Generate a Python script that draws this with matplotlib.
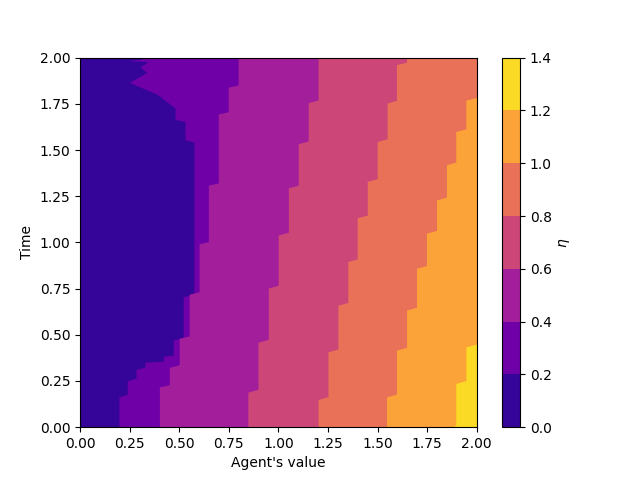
import matplotlib as mpl
import matplotlib.pyplot as plt
import numpy as np

# Contour levels of eta
levels = [0.0, 0.2, 0.4, 0.6, 0.8, 1.0, 1.2, 1.4]

# Level boundaries: (time, agent's value) vertices.
# Everything right of boundary k has eta >= levels[k + 1].
b02_t = [0.0, 0.164, 0.179, 0.251, 0.266, 0.313, 0.325, 0.352, 0.358, 0.385, 0.39, 0.47,
         0.49, 0.706, 0.72, 1.543, 1.555, 1.655, 1.665, 1.727, 1.80, 1.81, 1.866, 1.92,
         1.95, 1.978, 1.983, 1.986, 1.99, 2.0]
b02_x = [0.196, 0.196, 0.238, 0.238, 0.282, 0.282, 0.327, 0.327, 0.42, 0.42, 0.47, 0.47,
         0.52, 0.52, 0.574, 0.574, 0.529, 0.529, 0.479, 0.479, 0.39, 0.37, 0.249, 0.336,
         0.302, 0.344, 0.25, 0.25, 0.31, 0.31]

b04_t = [0.0, 0.218, 0.23, 0.324, 0.338, 0.48, 0.494, 0.72, 0.733, 0.992, 1.005, 1.31,
         1.322, 1.695, 1.707, 1.84, 1.852, 2.0]
b04_x = [0.4, 0.4, 0.45, 0.45, 0.5, 0.5, 0.55, 0.55, 0.6, 0.6, 0.647, 0.647,
         0.697, 0.697, 0.747, 0.747, 0.797, 0.797]

b06_t = [0.0, 0.19, 0.205, 0.46, 0.475, 0.753, 0.768, 1.04, 1.055, 1.295, 1.31, 1.534,
         1.549, 1.756, 1.771, 2.0]
b06_x = [0.846, 0.846, 0.897, 0.897, 0.949, 0.949, 0.999, 0.999, 1.05, 1.05, 1.1, 1.1,
         1.15, 1.15, 1.2, 1.2]

b08_t = [0.0, 0.15, 0.165, 0.408, 0.423, 0.66, 0.675, 0.896, 0.911, 1.133, 1.148, 1.33,
         1.345, 1.546, 1.561, 1.754, 1.769, 1.962, 1.975, 2.0]
b08_x = [1.2, 1.2, 1.25, 1.25, 1.3, 1.3, 1.35, 1.35, 1.397, 1.397, 1.448, 1.448,
         1.498, 1.498, 1.548, 1.548, 1.595, 1.595, 1.646, 1.646]

b10_t = [0.0, 0.164, 0.179, 0.417, 0.432, 0.634, 0.649, 0.86, 0.875, 1.05, 1.065, 1.23,
         1.245, 1.42, 1.435, 1.6, 1.615, 1.77, 1.785, 2.0]
b10_x = [1.545, 1.545, 1.595, 1.595, 1.646, 1.646, 1.696, 1.696, 1.746, 1.746, 1.797, 1.797,
         1.847, 1.847, 1.894, 1.894, 1.945, 1.945, 2.0, 2.0]

b12_t = [0.0, 0.012, 0.237, 0.252, 0.435, 0.45, 2.0]
b12_x = [1.875, 1.894, 1.894, 1.945, 1.945, 2.0, 2.0]

boundaries = [(b02_t, b02_x), (b04_t, b04_x), (b06_t, b06_x),
              (b08_t, b08_x), (b10_t, b10_x), (b12_t, b12_x)]

# Colours like contourf: plasma at the middle of each band
cmap = plt.get_cmap("plasma")
norm = mpl.colors.Normalize(vmin=levels[0], vmax=levels[-1])
mids = [(levels[i] + levels[i + 1]) / 2 for i in range(len(levels) - 1)]
colors = [cmap(norm(m)) for m in mids]

fig, ax = plt.subplots(figsize=(6.4, 4.8), dpi=100)

# Lowest band covers everything, the others are painted on top
ax.fill_betweenx([0.0, 2.0], 0.0, 2.0, color=colors[0], linewidth=0)
for k, (bt, bx) in enumerate(boundaries):
    ax.fill_betweenx(bt, bx, 2.0, color=colors[k + 1], linewidth=0)

ax.set_xlim(0, 2)
ax.set_ylim(0, 2)
ax.set_xlabel("Agent's value")
ax.set_ylabel("Time")

sm = mpl.cm.ScalarMappable(norm=mpl.colors.BoundaryNorm(levels, len(colors)),
                           cmap=mpl.colors.ListedColormap(colors))
cbar = fig.colorbar(sm, ax=ax, ticks=levels)
cbar.set_label(r"$\eta$")

fig.savefig("out.png")
